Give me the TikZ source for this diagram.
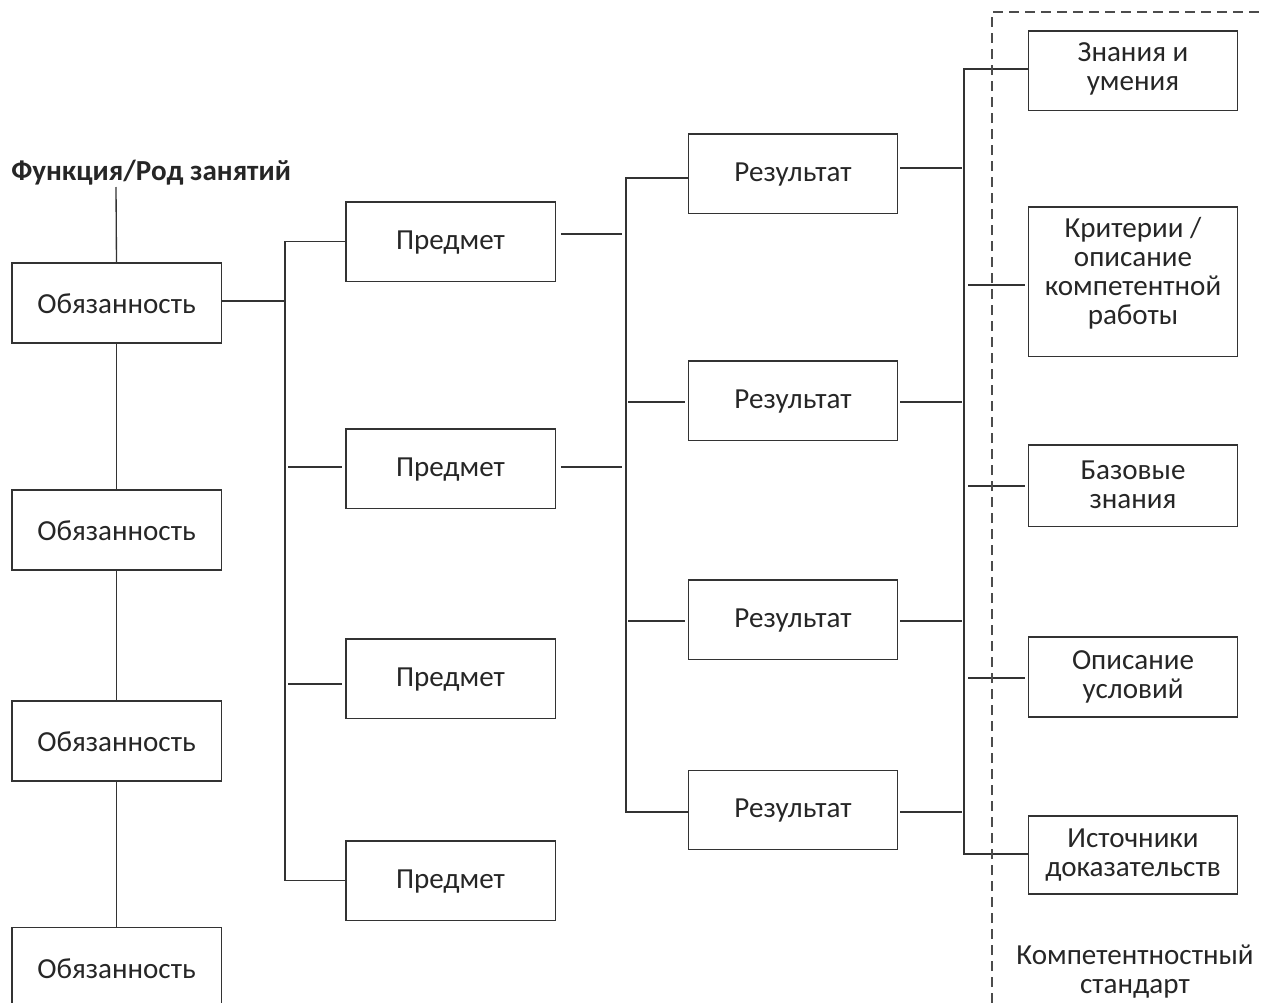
\documentclass[tikz,border=0pt]{standalone}
\usepackage{fontspec}
\setmainfont{Carlito}
\begin{document}
\begin{tikzpicture}[x=0.75pt,y=-0.75pt,
  ln/.style={draw=black!80, line width=1pt},
  box/.style={ln, rectangle, minimum width=157pt, inner sep=0pt, align=center,
     font=\fontsize{21.8}{21.75}\selectfont, text=black!85},
  dsh/.style={draw=black!70, line width=1pt, dash pattern=on 7.5pt off 4.5pt},
  lbl/.style={align=center, font=\fontsize{21.8}{21.75}\selectfont, text=black!85, inner sep=0pt}
]
\useasboundingbox (0,0) rectangle (1264,1003);
\begin{scope}
\clip (0,0) rectangle (1264,1003);

% title
\node[font=\fontsize{21.8}{21.75}\selectfont\bfseries, text=black!85, anchor=west, inner sep=0pt] (title) at (11,173) {Функция/Род занятий};
\coordinate (tb) at (116,187);

% duties
\node[box, minimum height=60pt] (o1) at (116.5,303) {};
\node[lbl] (o1t) at (116.5,304) {Обязанность};
\node[box, minimum height=60pt] (o2) at (116.5,530) {};
\node[lbl] (o2t) at (116.5,531) {Обязанность};
\node[box, minimum height=60pt] (o3) at (116.5,741) {};
\node[lbl] (o3t) at (116.5,742) {Обязанность};
\node[box, minimum height=62pt, anchor=north] (o4) at (116.5,927) {};
\node[lbl] (o4t) at (116.5,969) {Обязанность};

% subjects
\node[box, minimum height=59.5pt] (p1) at (450.5,241.5) {};
\node[lbl] (p1t) at (450.5,242.5) {Предмет};
\node[box, minimum height=59.5pt] (p2) at (450.5,468.5) {};
\node[lbl] (p2t) at (450.5,469.5) {Предмет};
\node[box, minimum height=59.5pt] (p3) at (450.5,678.5) {};
\node[lbl] (p3t) at (450.5,679.5) {Предмет};
\node[box, minimum height=59.5pt] (p4) at (450.5,880.5) {};
\node[lbl] (p4t) at (450.5,881.5) {Предмет};

% results
\node[box, minimum height=59.5pt] (r1) at (793,173.5) {};
\node[lbl] (r1t) at (793,174.5) {Результат};
\node[box, minimum height=59.5pt] (r2) at (793,400.5) {};
\node[lbl] (r2t) at (793,401.5) {Результат};
\node[box, minimum height=59.5pt] (r3) at (793,619.5) {};
\node[lbl] (r3t) at (793,620.5) {Результат};
\node[box, minimum height=59.5pt] (r4) at (793,810) {};
\node[lbl] (r4t) at (793,811) {Результат};

% standard components
\node[box, minimum height=59.5pt] (s1) at (1133,70.5) {};
\node[lbl] (s1t) at (1133,68.5) {Знания и\\умения};
\node[box, minimum height=112pt] (s2) at (1133,281.5) {};
\node[lbl] (s2t) at (1133,273.5) {Критерии /\\описание\\компетентной\\работы};
\node[box, minimum height=61pt] (s3) at (1133,485.5) {};
\node[lbl] (s3t) at (1133,484.5) {Базовые\\знания};
\node[box, minimum height=60pt] (s4) at (1133,677) {};
\node[lbl] (s4t) at (1133,677) {Описание\\условий};
\node[box, minimum height=58.5pt] (s5) at (1133,855) {};
\node[lbl] (s5t) at (1133,855) {Источники\\доказательств};

\node[lbl] (std) at (1135,971.5) {Компетентностный\\стандарт};

% duty chain
\draw[ln] (tb) -- (o1.north);
\draw[ln] (o1.south) -- (o2.north);
\draw[ln] (o2.south) -- (o3.north);
\draw[ln] (o3.south) -- (o4.north);

% duty -> subjects bus
\coordinate (b1m) at (285,301);
\coordinate (b1t) at (285,241.5);
\coordinate (b1b) at (285,880.5);
\draw[ln] (o1.east |- b1m) -- (b1m);
\draw[ln] (p1.west) -- (b1t) -- (b1b) -- (p4.west);
\coordinate (b1c) at (288,467);
\coordinate (b1d) at (288,684);
\draw[ln] (b1c) -- ([xshift=-2.25pt]p2.west |- b1c);
\draw[ln] (b1d) -- ([xshift=-2.25pt]p3.west |- b1d);

% subjects -> results bus
\coordinate (b2a) at (622,234);
\coordinate (b2b) at (622,467);
\draw[ln] ([xshift=3.75pt]p1.east |- b2a) -- (b2a);
\draw[ln] ([xshift=3.75pt]p2.east |- b2b) -- (b2b);
\coordinate (b2t) at (626,178);
\coordinate (b2bot) at (626,812);
\draw[ln] (r1.west |- b2t) -- (b2t) -- (b2bot) -- (r4.west |- b2bot);
\coordinate (b2c) at (628,402);
\coordinate (b2d) at (628,621);
\draw[ln] (b2c) -- ([xshift=-2.25pt]r2.west |- b2c);
\draw[ln] (b2d) -- ([xshift=-2.25pt]r3.west |- b2d);

% results -> standard bus
\coordinate (b3a) at (962,168);
\coordinate (b3b) at (962,402);
\coordinate (b3c) at (962,621);
\coordinate (b3d) at (962,812);
\draw[ln] ([xshift=1.5pt]r1.east |- b3a) -- (b3a);
\draw[ln] ([xshift=1.5pt]r2.east |- b3b) -- (b3b);
\draw[ln] ([xshift=1.5pt]r3.east |- b3c) -- (b3c);
\draw[ln] ([xshift=1.5pt]r4.east |- b3d) -- (b3d);
\coordinate (b3t) at (964,69);
\coordinate (b3bot) at (964,854);
\draw[ln] (s1.west |- b3t) -- (b3t) -- (b3bot) -- (s5.west |- b3bot);
\coordinate (b3e) at (968,285);
\coordinate (b3f) at (968,486);
\coordinate (b3g) at (968,678);
\draw[ln] (b3e) -- ([xshift=-2.25pt]s2.west |- b3e);
\draw[ln] (b3f) -- ([xshift=-2.25pt]s3.west |- b3f);
\draw[ln] (b3g) -- ([xshift=-2.25pt]s4.west |- b3g);

% dashed boundary
\coordinate (d0) at (992,1003);
\coordinate (d1) at (992,12);
\coordinate (d2) at (1264,12);
\draw[dsh] (d0) -- (d1) -- (d2);
\end{scope}
\end{tikzpicture}
\end{document}
